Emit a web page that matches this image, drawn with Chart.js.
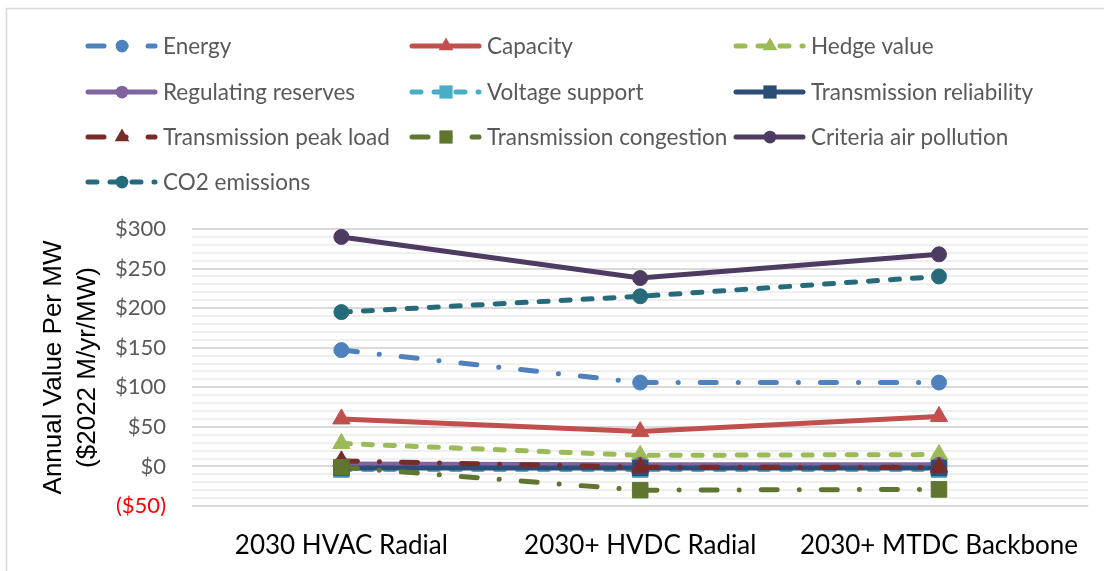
<html>
  <head>
    <script src="https://cdn.jsdelivr.net/npm/chart.js@4/dist/chart.umd.min.js"></script>
    <style>
      body,
      html {
        margin: 0;
        padding: 0;
        background: #fff;
      }
      #valueChart {
        display: block;
      }
    </style>
  </head>
  <body>
    <canvas id="valueChart" width="1104" height="571"></canvas>

    <script>
      const categories = ["2030 HVAC Radial", "2030+ HVDC Radial", "2030+ MTDC Backbone"];

      const energy = [147, 106, 106];
      const capacity = [60, 44, 63];
      const hedgeValue = [29, 14, 15];
      const regulatingReserves = [3, 2, 2];
      const voltageSupport = [-4, -4, -4];
      const transmissionReliability = [-2, -2, -2];
      const transmissionPeakLoad = [7, -1, -1];
      const transmissionCongestion = [-1, -30, -29];
      const criteriaAirPollution = [290, 238, 268];
      const co2Emissions = [195, 215, 240];

      const yMin = -50;
      const yMax = 300;
      const yLabelStep = 50;

      const longDashDot = [16, 22, 0.1, 22];
      const dashed = [9, 13];

      const makeSeries = function (label, data, color, dash, pointStyle, radius) {
        return {
          label: label,
          data: data,
          borderColor: color,
          backgroundColor: color,
          pointBackgroundColor: color,
          pointBorderColor: color,
          borderWidth: 5,
          borderDash: dash,
          borderCapStyle: "round",
          pointStyle: pointStyle,
          pointRadius: radius,
          pointHoverRadius: radius,
          pointBorderWidth: 1,
        };
      };

      const datasets = [
        makeSeries("Energy", energy, "#4F81BD", longDashDot, "circle", 7.5),
        makeSeries("Capacity", capacity, "#C0504D", [], "triangle", 10),
        makeSeries("Hedge value", hedgeValue, "#9BBB59", dashed, "triangle", 10),
        makeSeries("Regulating reserves", regulatingReserves, "#8064A2", [], "circle", 7.5),
        makeSeries("Voltage support", voltageSupport, "#4BACC6", dashed, "rect", 11),
        makeSeries("Transmission reliability", transmissionReliability, "#2C4D75", [], "rect", 11),
        makeSeries("Transmission peak load", transmissionPeakLoad, "#772C2A", longDashDot, "triangle", 10),
        makeSeries("Transmission congestion", transmissionCongestion, "#5F7530", longDashDot, "rect", 11),
        makeSeries("Criteria air pollution", criteriaAirPollution, "#4D3B62", [], "circle", 7.5),
        makeSeries("CO2 emissions", co2Emissions, "#276A7C", dashed, "circle", 7.5),
      ];
      // later series drawn on top, like the spreadsheet
      datasets.forEach(function (ds, i) {
        ds.order = -i;
      });

      // legend laid out in fixed columns
      const legendColumns = [86, 410, 734];
      const legendRows = [46, 92, 137, 182];

      function drawMarker(ctx, style, x, y, r) {
        ctx.beginPath();
        if (style === "circle") {
          ctx.arc(x, y, r, 0, Math.PI * 2);
        } else if (style === "triangle") {
          ctx.moveTo(x, y - r);
          ctx.lineTo(x + r * 0.866, y + r / 2);
          ctx.lineTo(x - r * 0.866, y + r / 2);
          ctx.closePath();
        } else {
          const s = r * Math.SQRT1_2;
          ctx.rect(x - s, y - s, s * 2, s * 2);
        }
        ctx.fill();
      }

      const fixedLegend = {
        id: "fixedLegend",
        beforeDraw(chart) {
          const ctx = chart.ctx;
          ctx.save();
          ctx.strokeStyle = "#d9d9d9";
          ctx.lineWidth = 1.5;
          ctx.strokeRect(6.5, 8.5, 1110, 580);
          ctx.restore();
        },
        afterDraw(chart) {
          const ctx = chart.ctx;
          chart.data.datasets.forEach(function (ds, i) {
            const x = legendColumns[i % 3];
            const y = legendRows[Math.floor(i / 3)];
            ctx.save();
            ctx.strokeStyle = ds.borderColor;
            ctx.lineWidth = 5;
            ctx.lineCap = "round";
            ctx.setLineDash(ds.borderDash);
            ctx.beginPath();
            ctx.moveTo(x + 2, y);
            ctx.lineTo(x + 69, y);
            ctx.stroke();
            ctx.setLineDash([]);
            ctx.fillStyle = ds.borderColor;
            drawMarker(ctx, ds.pointStyle, x + 36, y, ds.pointRadius * 0.85);
            ctx.fillStyle = "#595959";
            ctx.font = "22.5px Lato";
            ctx.textBaseline = "middle";
            ctx.fillText(ds.label, x + 77, y + 1);
            ctx.restore();
          });
        },
      };

      const ctx = document.getElementById("valueChart").getContext("2d");

      var valueChart = new Chart(ctx, {
        type: "line",
        data: {
          labels: categories,
          datasets: datasets,
        },
        plugins: [fixedLegend],
        options: {
          responsive: false,
          animation: false,
          layout: {
            padding: { top: 229, right: 12, bottom: 0, left: 0 },
          },
          plugins: {
            legend: { display: false },
            tooltip: { enabled: false },
          },
          scales: {
            x: {
              offset: true,
              grid: { display: false, drawTicks: false },
              border: { display: false },
              ticks: {
                color: "#000",
                padding: 24,
                maxRotation: 0,
                font: { family: "Lato", size: 26 },
              },
              afterFit: function (scale) {
                scale.height = 65;
              },
            },
            y: {
              min: yMin,
              max: yMax,
              border: { display: false },
              grid: {
                drawTicks: false,
                lineWidth: 2,
                color: function (c) {
                  return c.tick && c.tick.value % yLabelStep === 0 ? "#d9d9d9" : "#efefef";
                },
              },
              ticks: {
                stepSize: 10,
                autoSkip: false,
                padding: 26,
                font: { family: "Lato", size: 22 },
                color: function (c) {
                  return c.tick && c.tick.value < 0 ? "#ff0000" : "#595959";
                },
                callback: function (value) {
                  if (value % yLabelStep !== 0) return "";
                  return value < 0 ? "($" + Math.abs(value) + ")" : "$" + value;
                },
              },
              title: {
                display: true,
                text: ["Annual Value Per MW", "($2022 M/yr/MW)"],
                color: "#000",
                font: { family: "Liberation Sans", size: 26, lineHeight: 1.3 },
                padding: { top: 37, bottom: 0 },
              },
              afterFit: function (scale) {
                scale.width = 192;
              },
            },
          },
        },
      });
    </script>
  </body>
</html>
